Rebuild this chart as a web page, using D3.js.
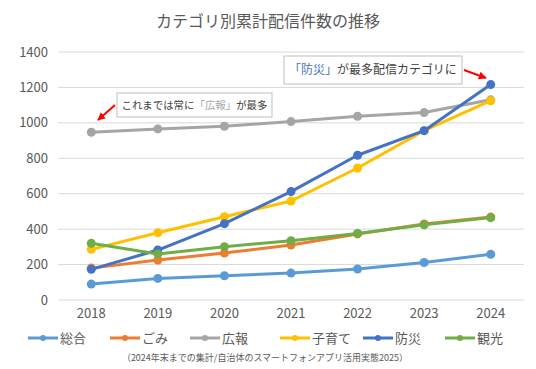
<!DOCTYPE html>
<html><head><meta charset="utf-8">
<script src="https://cdn.jsdelivr.net/npm/d3@7"></script>
<style>body{margin:0;background:#fff;}svg{display:block;font-family:"Noto Sans CJK JP","Noto Sans",sans-serif;}</style>
</head><body><svg id="c" width="536" height="369"></svg>
<script>
const years = ["2018","2019","2020","2021","2022","2023","2024"];
const yTicks = [0,200,400,600,800,1000,1200,1400];
const seriesNames = ["総合","ごみ","広報","子育て","防災","観光"];
const seriesColors = ["#5B9BD5","#ED7D31","#A5A5A5","#FFC000","#4472C4","#70AD47"];
const sougou  = [90,122,137,152,175,212,258];
const gomi    = [180,226,265,310,373,429,468];
const kouhou  = [947,966,981,1007,1037,1058,1130];
const kosodate= [286,380,470,559,745,956,1125];
const bousai  = [173,282,431,612,817,956,1216];
const kankou  = [320,260,301,335,376,425,465];
const seriesValues = [sougou,gomi,kouhou,kosodate,bousai,kankou];
const title = "カテゴリ別累計配信件数の推移";
const note = "（2024年末までの集計/自治体のスマートフォンアプリ活用実態2025）";

const svg = d3.select("#c");
const x = d3.scaleBand().domain(years).range([58,524]);
const y = d3.scaleLinear().domain([0,1400]).range([300,52]);
const cx = d => x(d)+x.bandwidth()/2;

svg.append("text").attr("x",268).attr("y",27).attr("text-anchor","middle")
  .attr("font-size",16).attr("fill","#595959").text(title);

svg.append("g").selectAll("line").data(yTicks).join("line")
  .attr("x1",58).attr("x2",524).attr("y1",d=>y(d)).attr("y2",d=>y(d))
  .attr("stroke","#D9D9D9").attr("stroke-width",1);
svg.append("g").selectAll("text").data(yTicks).join("text")
  .attr("x",48).attr("y",d=>y(d)).attr("dy","0.35em").attr("text-anchor","end")
  .attr("font-size",13).attr("fill","#595959").text(d=>d);
svg.append("g").selectAll("text").data(years).join("text")
  .attr("x",d=>cx(d)).attr("y",318).attr("text-anchor","middle")
  .attr("font-size",13).attr("fill","#595959").text(d=>d);

const line = d3.line().x((d,i)=>cx(years[i])).y(d=>y(d));
seriesValues.forEach((vals,si)=>{
  const g = svg.append("g");
  g.append("path").attr("d",line(vals)).attr("fill","none")
    .attr("stroke",seriesColors[si]).attr("stroke-width",3).attr("stroke-linejoin","round");
  g.selectAll("circle").data(vals).join("circle")
    .attr("cx",(d,i)=>cx(years[i])).attr("cy",d=>y(d)).attr("r",4.5)
    .attr("fill",seriesColors[si]);
});

const defs = svg.append("defs");
defs.append("marker").attr("id","ah").attr("viewBox","0 0 10 10").attr("refX",9).attr("refY",5)
  .attr("markerWidth",4).attr("markerHeight",4).attr("orient","auto")
  .append("path").attr("d","M0,0L10,5L0,10z").attr("fill","#FF0000");

function box(x0,y0,w,h,fs,tl,parts){
  svg.append("rect").attr("x",x0).attr("y",y0).attr("width",w).attr("height",h)
    .attr("fill","#fff").attr("stroke","#BFBFBF").attr("stroke-width",1);
  // measure parts at fs, then scale font to fit tl
  const nodes = parts.map(p=>svg.append("text").attr("font-size",fs).attr("fill",p[1])
    .attr("y",y0+h/2).attr("dy","0.35em").text(p[0]));
  const widths = nodes.map(n=>n.node().getComputedTextLength());
  const total = d3.sum(widths);
  const k = Math.min(1, tl/total);
  let cxp = x0 + (w - total*k)/2;
  nodes.forEach((n,i)=>{
    n.attr("font-size",fs*k).attr("x",cxp);
    cxp += widths[i]*k;
  });
}
box(117,93,155,24,12,146,[["これまでは常に","#404040"],["「広報」","#A5A5A5"],["が最多","#404040"]]);
box(284,56,178,28,13,168,[["「防災」","#4472C4"],["が最多配信カテゴリに","#404040"]]);
svg.append("line").attr("x1",115).attr("y1",105).attr("x2",98).attr("y2",120)
  .attr("stroke","#FF0000").attr("stroke-width",2).attr("marker-end","url(#ah)");
svg.append("line").attr("x1",464).attr("y1",70).attr("x2",486).attr("y2",78)
  .attr("stroke","#FF0000").attr("stroke-width",2).attr("marker-end","url(#ah)");

const legX = [28,110,190,280,363,445];
const lg = svg.append("g");
seriesNames.forEach((n,i)=>{
  lg.append("line").attr("x1",legX[i]).attr("x2",legX[i]+30).attr("y1",338).attr("y2",338)
    .attr("stroke",seriesColors[i]).attr("stroke-width",3);
  lg.append("circle").attr("cx",legX[i]+15).attr("cy",338).attr("r",3).attr("fill",seriesColors[i]);
  lg.append("text").attr("x",legX[i]+32).attr("y",338).attr("dy","0.35em")
    .attr("font-size",13).attr("fill","#595959").text(n);
});
svg.append("text").attr("x",265).attr("y",358).attr("dy","0.35em").attr("text-anchor","middle")
  .attr("font-size",9).attr("fill","#595959").text(note);
</script></body></html>
